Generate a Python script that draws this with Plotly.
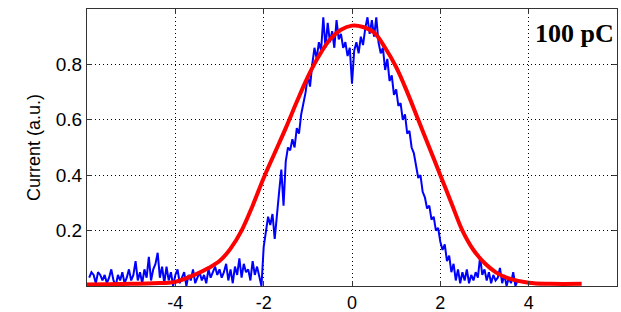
import numpy as np
import plotly.graph_objects as go

# ---- data ----
blue_x0 = -5.95
blue_step = 0.05
blue_y = [
    0.03, 0.05, 0.04, 0.01, 0.05, 0.04, 0.02, 0.04, 0.01, 0.03, 0.06, 0.02, 0.00, 0.04, 0.02, 0.05, 0.01, 0.03, 0.06, 0.02,
    0.04, 0.09, 0.02, 0.05, 0.01, 0.06, 0.03, 0.105, 0.02, 0.06, 0.08, 0.12, 0.03, 0.07, 0.01, 0.07, 0.02, 0.05, 0.00, 0.04,
    0.06, 0.01, 0.03, 0.05, 0.00, 0.04, 0.02, 0.06, 0.01, 0.03, 0.05, 0.02, 0.04, 0.01, 0.06, 0.03, 0.05, 0.07, 0.04, 0.06,
    0.03, 0.05, 0.08, 0.02, 0.06, 0.01, 0.07, 0.04, 0.10, 0.03, 0.08, 0.05, 0.06, 0.02, 0.09, 0.04, 0.07, 0.03, 0.00, 0.14,
    0.20, 0.25, 0.22, 0.26, 0.17, 0.27, 0.34, 0.42, 0.29, 0.45, 0.50, 0.49, 0.53, 0.50, 0.57, 0.55, 0.62, 0.66, 0.70, 0.76,
    0.72, 0.80, 0.86, 0.82, 0.88, 0.85, 0.97, 0.86, 0.95, 0.88, 0.92, 0.86, 0.96, 0.89, 0.91, 0.86, 0.88, 0.83, 0.86, 0.73,
    0.85, 0.88, 0.84, 0.90, 0.87, 0.93, 0.97, 0.91, 0.96, 0.90, 0.97, 0.88, 0.84, 0.86, 0.78, 0.82, 0.74, 0.76, 0.69, 0.71,
    0.65, 0.66, 0.60, 0.62, 0.55, 0.56, 0.50, 0.48, 0.44, 0.39, 0.40, 0.34, 0.32, 0.28, 0.29, 0.24, 0.25, 0.20, 0.21, 0.16,
    0.13, 0.15, 0.09, 0.11, 0.05, 0.08, 0.02, 0.06, 0.01, 0.05, 0.02, 0.06, 0.01, 0.04, 0.02, 0.05, 0.03, 0.105, 0.04, 0.06,
    0.02, 0.05, 0.01, 0.04, 0.02, 0.03, 0.065, 0.01, 0.04, 0.00, 0.03, 0.01, 0.05, 0.00, 0.02,
]
blue_x = [round(blue_x0 + i * blue_step, 3) for i in range(len(blue_y))]

red_x = [-6.0, -5.5, -5.0, -4.5, -4.0, -3.5, -3.25, -3.0, -2.75, -2.5, -2.25, -2.0, -1.75, -1.5, -1.25, -1.0,
         -0.75, -0.5, -0.25, 0.0, 0.25, 0.5, 0.75, 1.0, 1.25, 1.5, 1.75, 2.0, 2.25, 2.5, 2.75, 3.0, 3.25,
         3.5, 4.0, 4.5, 5.2]
red_y = [0.005, 0.006, 0.008, 0.010, 0.015, 0.045, 0.065, 0.09, 0.135, 0.20, 0.29, 0.39, 0.48, 0.57, 0.665, 0.755,
         0.83, 0.89, 0.925, 0.94, 0.935, 0.915, 0.86, 0.79, 0.70, 0.60, 0.50, 0.40, 0.30, 0.20, 0.13, 0.083, 0.05,
         0.03, 0.012, 0.008, 0.008]

x_ticks = [-4, -2, 0, 2, 4]
x_tick_labels = ["-4", "-2", "0", "2", "4"]
y_ticks = [0.2, 0.4, 0.6, 0.8]
y_tick_labels = ["0.2", "0.4", "0.6", "0.8"]
label_text = "100 pC"
y_title = "Current (a.u.)"

fig = go.Figure()
fig.add_trace(go.Scatter(x=blue_x, y=blue_y, mode="lines",
                         line=dict(color="#0000ff", width=2), showlegend=False))
fig.add_trace(go.Scatter(x=red_x, y=red_y, mode="lines", line_shape="spline",
                         line=dict(color="#ff0000", width=4), showlegend=False))

xfont = dict(family="Liberation Sans, Arial", size=18, color="black")
yfont = dict(family="Liberation Sans, Arial", size=19, color="black")
fig.update_xaxes(range=[-6, 6], tickmode="array", tickvals=x_ticks, ticktext=x_tick_labels,
                 showgrid=True, gridcolor="black", gridwidth=1, griddash="1px,3px",
                 showline=True, linecolor="#333", linewidth=1, mirror="ticks",
                 ticks="inside", ticklen=5, tickcolor="#333", zeroline=False,
                 tickfont=xfont, automargin=False, ticklabelstandoff=0)
fig.update_yaxes(range=[0, 1.0], tickmode="array", tickvals=y_ticks, ticktext=y_tick_labels,
                 showgrid=True, gridcolor="black", gridwidth=1, griddash="1px,3px",
                 showline=True, linecolor="#333", linewidth=1, mirror="ticks",
                 ticks="inside", ticklen=5, tickcolor="#333", zeroline=False,
                 tickfont=yfont, automargin=False, ticklabelstandoff=0,
                 title=dict(text=y_title, font=dict(family="Liberation Sans, Arial", size=18, color="black"),
                            standoff=10))
fig.add_annotation(text="<b>" + label_text + "</b>", xref="paper", yref="paper",
                   x=0.998, y=0.91, xanchor="right", yanchor="middle", showarrow=False,
                   font=dict(family="Liberation Serif, Times New Roman", size=26, color="black"))
fig.update_layout(width=621, height=312, margin=dict(l=87, r=4, t=9, b=26),
                  paper_bgcolor="white", plot_bgcolor="white")
fig.write_html("out.html", post_script="document.body.style.margin='0px';",
               config={"displayModeBar": False})
